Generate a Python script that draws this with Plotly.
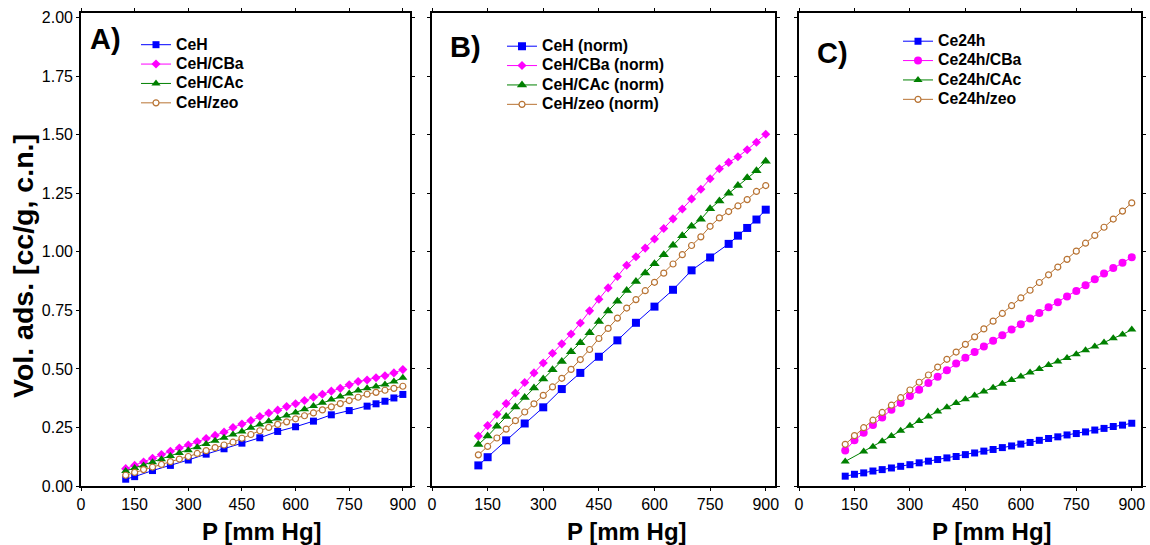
import plotly.graph_objects as go

# Pressure grids (mm Hg)
P_25 = [125, 150, 175, 200, 225, 250, 275, 300, 325, 350, 375, 400, 425, 450, 475, 500,
        525, 550, 575, 600, 625, 650, 675, 700, 725, 750, 775, 800, 825, 850, 875, 900]
P_50 = [125, 150, 200, 250, 300, 350, 400, 450, 500, 550, 600, 650, 700, 750, 800,
        825, 850, 875, 900]
P_cac24 = [125, 175, 200, 225, 250, 275, 300, 325, 350, 375, 400, 425, 450, 475, 500,
           525, 550, 575, 600, 625, 650, 675, 700, 725, 750, 775, 800, 825, 850, 875, 900]

# Panel A: adsorbed volume, cc/g (c.n.)
ceh = [0.029, 0.040, 0.066, 0.088, 0.111, 0.136, 0.159, 0.183, 0.206, 0.233, 0.253,
       0.277, 0.304, 0.322, 0.341, 0.351, 0.362, 0.376, 0.391]
ceh_cba = [0.074, 0.088, 0.102, 0.118, 0.134, 0.148, 0.162, 0.175, 0.189, 0.203, 0.216,
           0.230, 0.250, 0.265, 0.280, 0.297, 0.312, 0.324, 0.339, 0.351, 0.365, 0.379,
           0.392, 0.405, 0.417, 0.432, 0.446, 0.453, 0.462, 0.471, 0.483, 0.497]
ceh_cac = [0.064, 0.077, 0.088, 0.101, 0.114, 0.128, 0.141, 0.153, 0.166, 0.179, 0.193,
           0.206, 0.220, 0.233, 0.249, 0.263, 0.277, 0.288, 0.301, 0.314, 0.328, 0.342,
           0.355, 0.369, 0.382, 0.395, 0.408, 0.417, 0.425, 0.434, 0.446, 0.462]
ceh_zeo = [0.046, 0.058, 0.070, 0.081, 0.092, 0.104, 0.115, 0.126, 0.139, 0.151, 0.164,
           0.175, 0.187, 0.204, 0.220, 0.236, 0.250, 0.263, 0.274, 0.287, 0.300, 0.312,
           0.325, 0.338, 0.352, 0.365, 0.379, 0.392, 0.400, 0.409, 0.417, 0.426]

# Panel B: normalised volumes
ceh_n = [0.088, 0.123, 0.195, 0.267, 0.336, 0.414, 0.483, 0.552, 0.622, 0.697, 0.766,
         0.838, 0.921, 0.976, 1.034, 1.069, 1.102, 1.138, 1.180]
ceh_cba_n = [0.213, 0.258, 0.306, 0.352, 0.397, 0.442, 0.483, 0.525, 0.567, 0.607, 0.649,
             0.696, 0.748, 0.798, 0.846, 0.895, 0.943, 0.979, 1.016, 1.055, 1.100, 1.141,
             1.183, 1.226, 1.267, 1.312, 1.355, 1.382, 1.406, 1.436, 1.468, 1.502]
ceh_cac_n = [0.177, 0.213, 0.255, 0.297, 0.337, 0.378, 0.418, 0.457, 0.496, 0.532, 0.573,
             0.612, 0.655, 0.703, 0.747, 0.789, 0.835, 0.873, 0.910, 0.949, 0.988, 1.028,
             1.069, 1.109, 1.139, 1.184, 1.217, 1.250, 1.283, 1.316, 1.346, 1.387]
ceh_zeo_n = [0.133, 0.169, 0.205, 0.243, 0.279, 0.316, 0.351, 0.387, 0.423, 0.460, 0.498,
             0.540, 0.583, 0.630, 0.673, 0.717, 0.760, 0.796, 0.834, 0.870, 0.909, 0.948,
             0.988, 1.027, 1.064, 1.109, 1.145, 1.172, 1.196, 1.223, 1.258, 1.283]

# Panel C: 24 h samples
ce24 = [0.042, 0.050, 0.056, 0.064, 0.070, 0.077, 0.084, 0.091, 0.099, 0.106, 0.113,
        0.120, 0.126, 0.134, 0.141, 0.149, 0.156, 0.164, 0.171, 0.179, 0.186, 0.195,
        0.203, 0.210, 0.218, 0.224, 0.231, 0.239, 0.246, 0.254, 0.260, 0.268]
ce24_cba = [0.152, 0.195, 0.227, 0.260, 0.293, 0.326, 0.354, 0.384, 0.411, 0.440, 0.467,
            0.494, 0.523, 0.548, 0.572, 0.596, 0.620, 0.644, 0.668, 0.691, 0.715, 0.739,
            0.763, 0.785, 0.809, 0.833, 0.857, 0.883, 0.907, 0.931, 0.953, 0.977]
ce24_cac = [0.105, 0.147, 0.168, 0.191, 0.213, 0.236, 0.257, 0.278, 0.297, 0.318, 0.336,
            0.354, 0.371, 0.387, 0.404, 0.420, 0.437, 0.453, 0.468, 0.485, 0.500, 0.517,
            0.532, 0.547, 0.563, 0.580, 0.596, 0.613, 0.631, 0.647, 0.668]
ce24_zeo = [0.178, 0.215, 0.249, 0.281, 0.314, 0.345, 0.377, 0.410, 0.443, 0.474, 0.508,
            0.541, 0.572, 0.605, 0.637, 0.671, 0.704, 0.737, 0.770, 0.803, 0.836, 0.869,
            0.902, 0.935, 0.968, 1.003, 1.037, 1.070, 1.105, 1.140, 1.174, 1.209]

x_ticks = [0, 150, 300, 450, 600, 750, 900]
y_ticks = [0.00, 0.25, 0.50, 0.75, 1.00, 1.25, 1.50, 1.75, 2.00]
y_tick_text = ["%.2f" % v for v in y_ticks]

BLUE = "#0000FF"
MAGENTA = "#FF00FF"
GREEN = "#008000"
BROWN = "#B87333"
FONT = "Liberation Sans, Arial, sans-serif"

fig = go.Figure()


def add(x, y, name, color, symbol, size, panel, legend, open_marker=False):
    marker = dict(symbol=symbol, size=size, color=color)
    if open_marker:
        marker = dict(symbol=symbol, size=size, color="white",
                      line=dict(color=color, width=1.2))
    # legend rows are spaced by the legend font size; the label itself is set larger
    label = '<span style="font-size:15.8px"><b>' + name + '</b></span>'
    fig.add_trace(go.Scatter(
        x=x, y=y, name=label, mode="lines+markers",
        line=dict(color=color, width=1), marker=marker,
        xaxis="x" + panel, yaxis="y" + panel, legend=legend,
    ))


# Panel A
add(P_50, ceh, "CeH", BLUE, "square", 7, "", "legend")
add(P_25, ceh_cba, "CeH/CBa", MAGENTA, "diamond", 7, "", "legend")
add(P_25, ceh_cac, "CeH/CAc", GREEN, "triangle-up", 8, "", "legend")
add(P_25, ceh_zeo, "CeH/zeo", BROWN, "circle", 6, "", "legend", open_marker=True)

# Panel B
add(P_50, ceh_n, "CeH (norm)", BLUE, "square", 8, "2", "legend2")
add(P_25, ceh_cba_n, "CeH/CBa (norm)", MAGENTA, "diamond", 7, "2", "legend2")
add(P_25, ceh_cac_n, "CeH/CAc (norm)", GREEN, "triangle-up", 9, "2", "legend2")
add(P_25, ceh_zeo_n, "CeH/zeo (norm)", BROWN, "circle", 6, "2", "legend2", open_marker=True)

# Panel C
add(P_25, ce24, "Ce24h", BLUE, "square", 7, "3", "legend3")
add(P_25, ce24_cba, "Ce24h/CBa", MAGENTA, "circle", 8, "3", "legend3")
add(P_cac24, ce24_cac, "Ce24h/CAc", GREEN, "triangle-up", 8, "3", "legend3")
add(P_25, ce24_zeo, "Ce24h/zeo", BROWN, "circle", 6, "3", "legend3", open_marker=True)

W, H = 1150, 545
y_dom = [1 - 486 / H, 1 - 13 / H]
x_doms = [[81 / W, 410 / W], [432 / W, 775 / W], [799 / W, 1141 / W]]

axis_common = dict(showline=True, linecolor="black", linewidth=1.6, mirror="ticks",
                   ticks="outside", ticklen=3, tickcolor="black", showgrid=False,
                   zeroline=False, automargin=False,
                   tickfont=dict(family=FONT, size=16, color="black"))

layout = dict(
    width=W, height=H, margin=dict(l=0, r=0, t=0, b=0, autoexpand=False),
    plot_bgcolor="white", paper_bgcolor="white",
    font=dict(family=FONT, color="black"),
)

for i, dom in enumerate(x_doms):
    suf = "" if i == 0 else str(i + 1)
    xr = [0, 920] if i == 0 else [0, 925]
    layout["xaxis" + suf] = dict(domain=dom, range=xr, anchor="y" + suf,
                                 tickvals=x_ticks, **axis_common)
    layout["yaxis" + suf] = dict(
        domain=y_dom, range=[0, 2.02], anchor="x" + suf, tickvals=y_ticks,
        ticktext=y_tick_text if i == 0 else [""] * len(y_ticks),
        **axis_common)

legend_common = dict(bgcolor="rgba(0,0,0,0)", borderwidth=0, xanchor="left",
                     yanchor="top", tracegroupgap=0, itemwidth=30,
                     font=dict(family=FONT, size=12.6, color="black"))
layout["legend"] = dict(x=136 / W, y=1 - 30 / H, **legend_common)
layout["legend2"] = dict(x=502 / W, y=1 - 31.5 / H, **legend_common)
layout["legend3"] = dict(x=898 / W, y=1 - 26.5 / H, **legend_common)

fig.update_layout(**layout)

# Panel letters
for label, xp, yp in [("A)", 88, 39), ("B)", 448, 47), ("C)", 815, 53)]:
    fig.add_annotation(text="<b>" + label + "</b>", x=xp / W, y=1 - yp / H,
                       xref="paper", yref="paper", xanchor="left", yanchor="middle",
                       showarrow=False, font=dict(family=FONT, size=29, color="black"))

# Axis titles
for xc in [262, 627, 992]:
    fig.add_annotation(text="<b>P [mm Hg]</b>", x=xc / W, y=1 - 531 / H,
                       xref="paper", yref="paper", xanchor="center", yanchor="middle",
                       showarrow=False, font=dict(family=FONT, size=24, color="black"))
fig.add_annotation(text="<b>Vol. ads. [cc/g, c.n.]</b>", x=23 / W, y=1 - 266 / H,
                   xref="paper", yref="paper", xanchor="center", yanchor="middle",
                   textangle=-90, showarrow=False,
                   font=dict(family=FONT, size=28.5, color="black"))

fig.write_html("out.html")
